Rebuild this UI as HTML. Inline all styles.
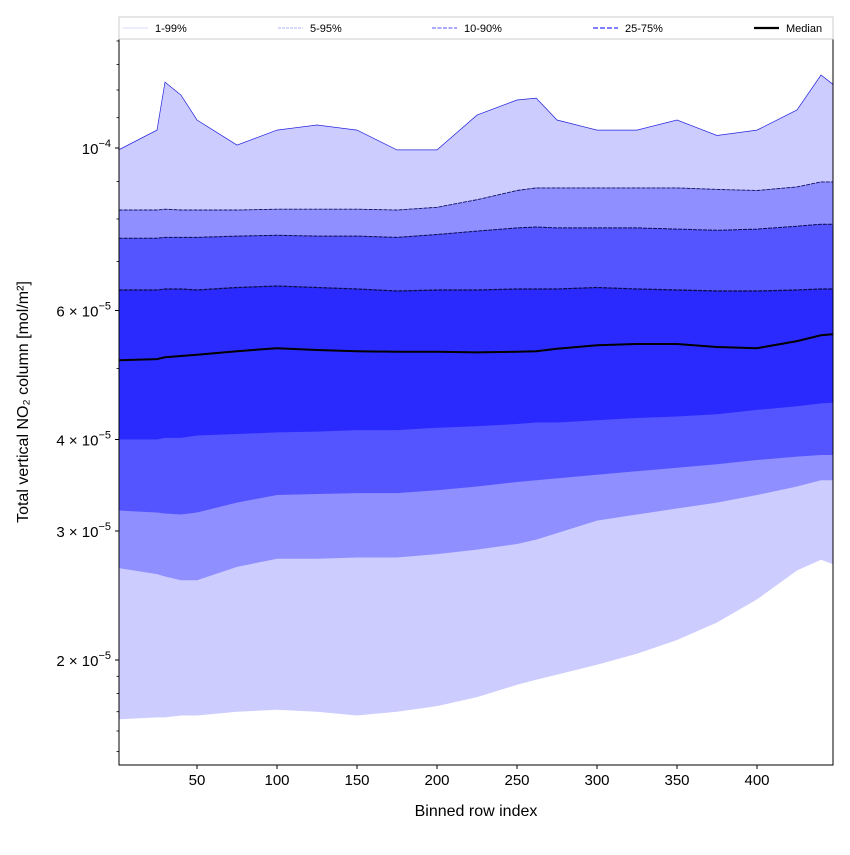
<!DOCTYPE html>
<html><head><meta charset="utf-8"><style>
body{margin:0;background:#fff;font-family:"Liberation Sans","DejaVu Sans",sans-serif}
</style></head><body>
<svg id="chart" width="850" height="850" xmlns="http://www.w3.org/2000/svg"></svg>
<script>
const rows=[1,25,30,40,50,75,100,125,150,175,200,225,250,262,275,300,325,350,375,400,425,440,448];
const p99=[9.94,10.58,12.30,11.81,10.92,10.09,10.58,10.75,10.58,9.94,9.94,11.09,11.63,11.70,10.92,10.58,10.58,10.92,10.40,10.58,11.27,12.58,12.19];
const p95=[8.23,8.23,8.25,8.23,8.23,8.23,8.25,8.25,8.25,8.23,8.30,8.50,8.75,8.82,8.82,8.82,8.82,8.82,8.78,8.75,8.85,8.99,8.99];
const p90=[7.53,7.53,7.55,7.55,7.55,7.58,7.60,7.58,7.58,7.55,7.62,7.70,7.78,7.80,7.78,7.78,7.78,7.75,7.72,7.75,7.82,7.87,7.87];
const p75=[6.40,6.40,6.42,6.42,6.40,6.45,6.48,6.45,6.42,6.38,6.40,6.40,6.42,6.42,6.42,6.45,6.42,6.40,6.38,6.38,6.40,6.42,6.42];
const p50=[5.13,5.15,5.18,5.20,5.22,5.28,5.33,5.30,5.28,5.27,5.27,5.26,5.27,5.28,5.32,5.38,5.40,5.40,5.35,5.33,5.45,5.55,5.57];
const p25=[4.00,4.00,4.02,4.02,4.05,4.07,4.09,4.10,4.12,4.12,4.15,4.17,4.20,4.22,4.22,4.25,4.28,4.30,4.33,4.39,4.44,4.48,4.49];
const p10=[3.20,3.18,3.17,3.16,3.18,3.28,3.36,3.37,3.38,3.38,3.41,3.45,3.50,3.52,3.54,3.58,3.62,3.66,3.70,3.75,3.79,3.81,3.81];
const p5=[2.67,2.62,2.60,2.57,2.57,2.68,2.75,2.75,2.76,2.76,2.79,2.83,2.88,2.92,2.98,3.10,3.16,3.22,3.28,3.36,3.45,3.52,3.52];
const p1=[1.66,1.67,1.67,1.68,1.68,1.70,1.71,1.70,1.68,1.70,1.73,1.78,1.85,1.88,1.91,1.97,2.04,2.13,2.25,2.42,2.65,2.74,2.70];
const yTicks=[10,6,4,3,2];
const yTickLabels=["10","6","4","3","2"];
const xTicks=[50,100,150,200,250,300,350,400];

const L=119,R=833,T=39,B=765;
const X=r=>117+1.6*r;
const Y=v=>148-732.5*Math.log10(v/10);
const NS="http://www.w3.org/2000/svg";
const svg=document.getElementById('chart');
function mk(t,a,p){const e=document.createElementNS(NS,t);for(const k in a)e.setAttribute(k,a[k]);(p||svg).appendChild(e);return e;}
const defs=mk('defs',{});const cp=mk('clipPath',{id:'c'},defs);mk('rect',{x:L,y:T,width:R-L,height:B-T},cp);
const g=mk('g',{'clip-path':'url(#c)'});
function line(arr){return rows.map((r,i)=>X(r).toFixed(1)+','+Y(arr[i]).toFixed(1)).join(' ');}
function band(hi,lo,fill,name){
  const pts=line(hi)+' '+rows.map((r,i)=>[X(r),Y(lo[i])]).reverse().map(p=>p[0].toFixed(1)+','+p[1].toFixed(1)).join(' ');
  const e=mk('polygon',{points:pts,fill:fill},g);
  
  
}
band(p99,p1,'#ccccff','band-1-99');
band(p95,p5,'#8f8fff','band-5-95');
band(p90,p10,'#5555ff','band-10-90');
band(p75,p25,'#2a2aff','band-25-75');
function pl(arr,stroke,w,name,dash){
  const e=mk('polyline',{points:line(arr),fill:'none',stroke:stroke,'stroke-width':w,'stroke-dasharray':dash||'none'},g);
  
  
}
pl(p99,'#2222dd',0.7,'line-p99');
pl(p95,'#111166',0.9,'line-p95','4 1');
pl(p90,'#0a0a55',1,'line-p90','4 1');
pl(p75,'#0a0a44',1.2,'line-p75','4 1');
pl(p50,'#000',2,'line-median');
mk('rect',{x:L,y:T,width:R-L,height:B-T,fill:'none',stroke:'#000','stroke-width':1});
// ticks
xTicks.forEach(t=>{
  mk('line',{x1:X(t),x2:X(t),y1:B,y2:B+4,stroke:'#000'});
  const e=mk('text',{x:X(t),y:B+20,'text-anchor':'middle','font-size':15});e.textContent=t;
  
  
});
yTicks.forEach((t,i)=>{
  const y=Y(t);
  mk('line',{x1:L-4,x2:L,y1:y,y2:y,stroke:'#000'});
  const e=mk('text',{x:L-8,y:y+6,'text-anchor':'end','font-size':15});
  if(t===10){e.innerHTML='10<tspan dy="-7" font-size="11">−4</tspan>';}
  else e.innerHTML=yTickLabels[i]+' × 10<tspan dy="-7" font-size="11">−5</tspan>';
  
  
});
[1.5,1.6,1.7,1.8,1.9,5,7,8,9,11,12,13,14].forEach(t=>{const y=Y(t);if(y>T&&y<B)mk('line',{x1:L-2.5,x2:L,y1:y,y2:y,stroke:'#000','stroke-width':0.8});});
let e=mk('text',{x:476,y:816,'text-anchor':'middle','font-size':16});e.textContent='Binned row index';

e=mk('text',{x:0,y:0,'text-anchor':'middle','font-size':16,transform:'translate(28,402) rotate(-90)'});e.textContent='Total vertical NO₂ column [mol/m²]';

// legend
const lg=mk('g',{});

mk('rect',{x:119,y:17,width:714,height:22,fill:'#fff',stroke:'#ccc'},lg);
const le=[[123,'1-99%','#ccccff',0.8,'none'],[278,'5-95%','#9999ff',0.8,'3 1'],[432,'10-90%','#7777ff',1.2,'4 1.5'],[593,'25-75%','#5555ff',1.6,'5 2'],[754,'Median','#000',2.2,'none']];
le.forEach(d=>{
  mk('line',{x1:d[0],x2:d[0]+25,y1:28,y2:28,stroke:d[2],'stroke-width':d[3],'stroke-dasharray':d[4]},lg);
  const t=mk('text',{x:d[0]+32,y:32,'font-size':11},lg);t.textContent=d[1];
  
  
});
</script>
</body></html>
